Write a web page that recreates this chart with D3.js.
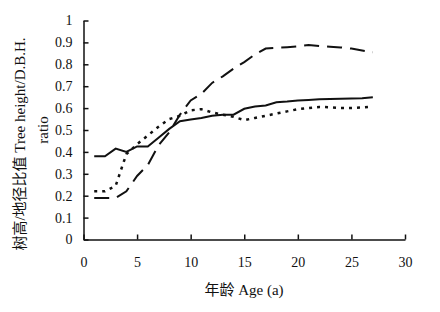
<!DOCTYPE html>
<html>

<head>
  <meta charset="utf8">
  <script src="https://d3js.org/d3.v7.min.js"></script>
  <style>
    body { margin: 0; background: #fff; }
    text { font-family: "Liberation Serif", "Noto Sans CJK SC", serif; fill: #111; }
    .axis path, .axis line { stroke: #111; stroke-width: 1.5; }
    .axis text { font-size: 14px; }
  </style>
</head>

<body>
  <svg id="chart" width="440" height="312"></svg>
  <script>
    var ages = d3.range(1, 28);
    var solid = [0.38, 0.38, 0.415, 0.40, 0.425, 0.425, 0.465, 0.505, 0.54, 0.548, 0.555, 0.565, 0.57, 0.57,
      0.597, 0.607, 0.612, 0.627, 0.63, 0.635, 0.637, 0.64, 0.642, 0.643, 0.644, 0.645, 0.65];
    var longDash = [0.19, 0.19, 0.19, 0.22, 0.29, 0.34, 0.43, 0.49, 0.57, 0.635, 0.665, 0.715, 0.745, 0.78,
      0.81, 0.845, 0.872, 0.875, 0.878, 0.882, 0.888, 0.884, 0.88, 0.877, 0.872, 0.863, 0.855];
    var dotted = [0.22, 0.22, 0.245, 0.39, 0.435, 0.475, 0.515, 0.55, 0.565, 0.59, 0.595, 0.58, 0.57, 0.56,
      0.545, 0.555, 0.565, 0.575, 0.585, 0.595, 0.6, 0.605, 0.604, 0.6, 0.6, 0.603, 0.607];
    var xTicks = [0, 5, 10, 15, 20, 25, 30];
    var yTicks = [0, 0.1, 0.2, 0.3, 0.4, 0.5, 0.6, 0.7, 0.8, 0.9, 1];

    var chart = d3.select('#chart');
    var x = d3.scaleLinear().domain([0, 30]).range([83.5, 405]);
    var y = d3.scaleLinear().domain([0, 1]).range([239.5, 20.5]);

    chart.append('g')
      .attr('class', 'axis')
      .attr('transform', 'translate(0,' + y(0) + ')')
      .call(d3.axisBottom(x).tickValues(xTicks).tickSize(-5).tickSizeOuter(0).tickPadding(18));

    chart.append('g')
      .attr('class', 'axis')
      .attr('transform', 'translate(' + x(0) + ',0)')
      .call(d3.axisLeft(y).tickValues(yTicks).tickSize(-5).tickSizeOuter(0).tickPadding(11)
        .tickFormat(d3.format('~g')));

    var series = [
      { values: solid, dash: null, width: 2 },
      { values: longDash, dash: '15,8', width: 2 },
      { values: dotted, dash: '3,5', width: 2.5 }
    ];

    var line = d3.line()
      .x((d, i) => x(ages[i]))
      .y((d) => y(d));

    chart.selectAll('.series')
      .data(series)
      .enter()
      .append('path')
      .attr('class', 'series')
      .attr('fill', 'none')
      .attr('stroke', '#111')
      .attr('stroke-width', (d) => d.width)
      .attr('stroke-dasharray', (d) => d.dash)
      .attr('d', (d) => line(d.values));

    chart.append('text')
      .attr('x', 244)
      .attr('y', 295)
      .attr('text-anchor', 'middle')
      .style('font-size', '15px')
      .text('年龄 Age (a)');

    chart.append('text')
      .attr('transform', 'translate(25,144) rotate(-90)')
      .attr('text-anchor', 'middle')
      .style('font-size', '15px')
      .text('树高/地径比值 Tree height/D.B.H.');

    chart.append('text')
      .attr('transform', 'translate(48,130) rotate(-90)')
      .attr('text-anchor', 'middle')
      .style('font-size', '15px')
      .text('ratio');
  </script>
</body>

</html>
